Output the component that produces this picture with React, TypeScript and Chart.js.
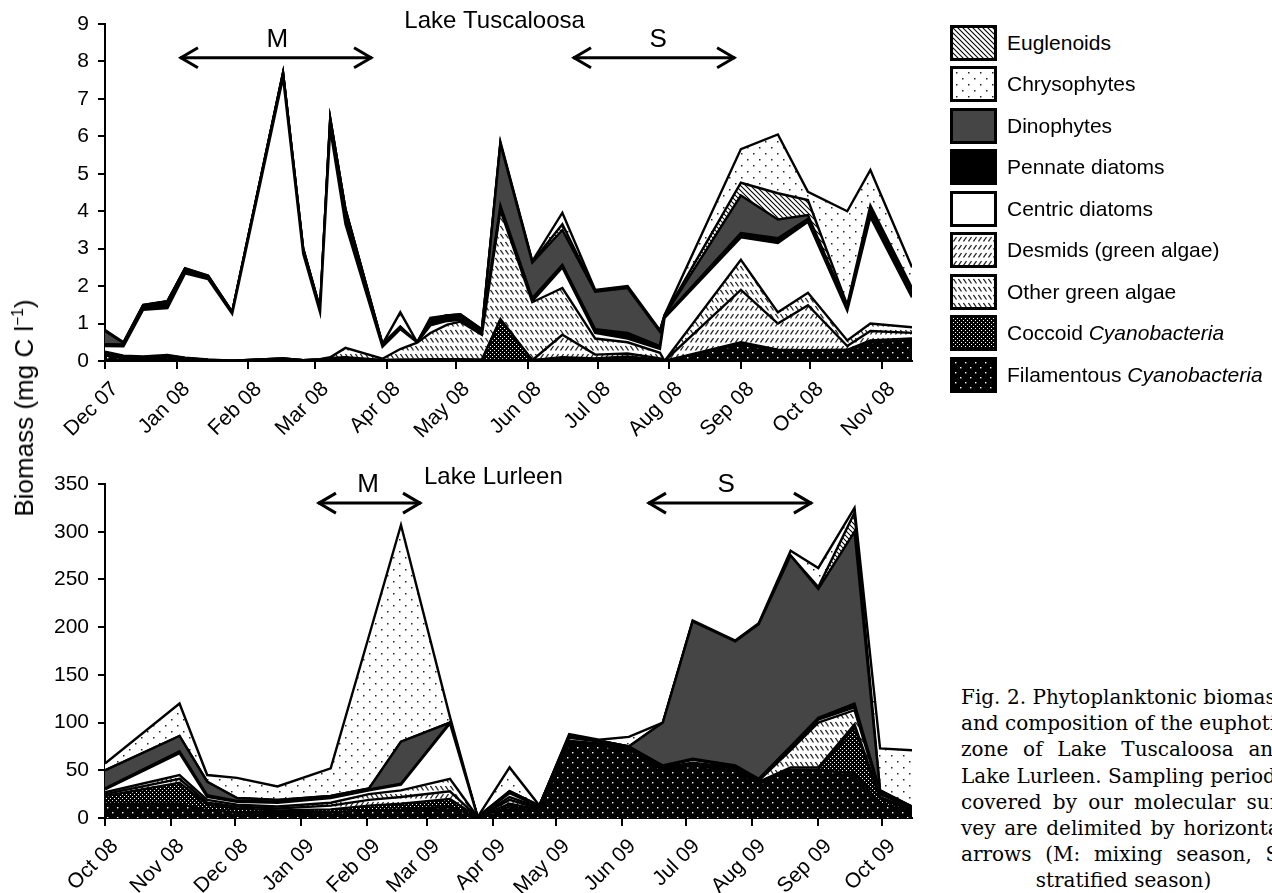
import React, { useEffect, useRef } from 'react';
import { Chart, registerables } from 'chart.js';

Chart.register(...registerables);

const FONT = '"Liberation Sans", Arial, Helvetica, sans-serif';

// ---------- Lake Tuscaloosa (days since 1 Dec 2007) ----------
const tuscDays = [0, 8, 16.5, 27, 34.6, 44.6, 55, 77, 85.7, 93, 97.4, 104, 120, 127.7, 135, 140.7, 148, 153.7, 163, 171, 184.8, 197.8, 212, 226, 240, 242, 275, 291, 304, 321, 331, 349];
const tFil = [0.15, 0.08, 0.07, 0.10, 0.05, 0.02, 0.01, 0.05, 0.02, 0.03, 0.05, 0.03, 0.02, 0.02, 0.02, 0.02, 0.02, 0.02, 0.02, 0.03, 0.02, 0.08, 0.05, 0.10, 0.02, 0, 0.45, 0.28, 0.27, 0.28, 0.50, 0.55];
const tCoc = [0.05, 0.03, 0.02, 0.03, 0.02, 0.01, 0, 0.02, 0, 0.01, 0.02, 0.02, 0, 0, 0, 0, 0, 0, 0, 1.07, 0, 0.02, 0.02, 0.02, 0, 0, 0.05, 0.02, 0.02, 0.02, 0.05, 0.05];
const tDes = [0.02, 0.01, 0.01, 0.01, 0.01, 0, 0, 0, 0, 0, 0.01, 0.05, 0.01, 0.02, 0.02, 0.03, 0.03, 0.03, 0.02, 0.02, 0, 0.60, 0.10, 0.08, 0.05, 0, 1.40, 0.70, 1.20, 0.10, 0.25, 0.15];
const tOg = [0.03, 0.02, 0.02, 0.02, 0.01, 0.01, 0, 0, 0, 0.01, 0.02, 0.25, 0.03, 0.28, 0.45, 0.70, 0.92, 1.00, 0.66, 2.90, 1.55, 1.25, 0.43, 0.30, 0.15, 0, 0.80, 0.30, 0.33, 0.15, 0.20, 0.15];
const tCen = [0.15, 0.25, 1.25, 1.25, 2.25, 2.15, 1.25, 7.5, 2.85, 1.25, 6.10, 3.30, 0.32, 0.53, 0.01, 0.20, 0.10, 0.05, 0.05, 0.03, 0.03, 0.55, 0.15, 0.10, 0.10, 1.15, 0.60, 1.85, 1.90, 0.80, 2.85, 0.80];
const tPen = [0.05, 0.05, 0.08, 0.15, 0.10, 0.06, 0.04, 0.10, 0.10, 0.08, 0.20, 0.30, 0.05, 0.05, 0, 0.10, 0.10, 0.08, 0.05, 0.10, 0.08, 0.07, 0.10, 0.15, 0.08, 0.03, 0.12, 0.13, 0.08, 0.05, 0.10, 0.10];
const tDin = [0.35, 0.04, 0.03, 0.03, 0.02, 0.02, 0.01, 0.03, 0.03, 0.02, 0.08, 0.10, 0.02, 0.02, 0, 0.05, 0.05, 0.05, 0.03, 1.65, 0.95, 0.93, 1.00, 1.20, 0.38, 0.03, 1.00, 0.50, 0.10, 0.05, 0.10, 0.10];
const tEug = [0.01, 0.01, 0.01, 0.01, 0.01, 0, 0, 0, 0, 0, 0, 0, 0, 0, 0, 0, 0, 0.01, 0, 0.02, 0.02, 0.15, 0.02, 0.02, 0.02, 0.01, 0.34, 0.70, 0.40, 0.05, 0.10, 0.05];
const tChr = [0.02, 0.01, 0.01, 0, 0.01, 0.01, 0, 0, 0, 0, 0, 0, 0, 0.38, 0, 0.05, 0, 0.01, 0.02, 0.03, 0.02, 0.31, 0.03, 0.03, 0.02, 0.01, 0.90, 1.57, 0.22, 2.50, 0.95, 0.55];
const tuscTickDays = [0, 31, 62, 91, 122, 152, 183, 213, 244, 275, 305, 336];
const tuscTickLabels = ['Dec 07', 'Jan 08', 'Feb 08', 'Mar 08', 'Apr 08', 'May 08', 'Jun 08', 'Jul 08', 'Aug 08', 'Sep 08', 'Oct 08', 'Nov 08'];
const tuscYTicks = [0, 1, 2, 3, 4, 5, 6, 7, 8, 9];

// ---------- Lake Lurleen (days since 1 Oct 2008) ----------
const lurDays = [0, 35, 48, 62, 81, 106, 124, 139, 162, 175, 190, 204, 218, 232, 246, 262, 276, 296, 307, 322, 335, 352, 364, 379];
const lFil = [15, 15, 8, 6, 5, 6, 8, 9, 12, 1, 12, 8, 78, 76, 72, 50, 55, 50, 36, 50, 50, 47, 15, 6];
const lCoc = [8, 22, 6, 4, 3, 3, 5, 6, 8, 0, 3, 1, 1, 1, 0.5, 1, 1, 1, 1, 1, 1, 48, 5, 2];
const lDes = [2, 4, 2, 2, 2, 4, 6, 7, 8, 0, 4, 1, 1, 0.5, 0.5, 1, 1, 1, 1, 2, 2, 3, 2, 1];
const lOg = [2, 4, 3, 2, 2, 3, 6, 7, 13, 0, 3, 1, 1, 0.5, 0.5, 1, 1, 1, 1, 18, 47, 15, 3, 1];
const lCen = [3, 23, 3, 3, 4, 5, 4, 6, 58, 0, 4, 1, 3, 2, 1, 1, 3, 1, 1, 2, 3, 3, 2, 1];
const lPen = [1, 2, 2, 1, 1, 1, 1, 1, 1, 0, 1, 0.5, 2, 1, 0.5, 1, 1, 1, 1, 2, 2, 4, 1, 1];
const lDin = [19, 16, 14, 3, 2, 1, 1, 44, 0, 0, 1, 0.5, 0, 0, 0, 45, 144, 130, 162, 200, 135, 180, 1, 0];
const lEug = [0, 0, 0, 0, 0, 0, 0, 0, 0, 0, 0, 0, 0, 0, 0, 0, 0, 0, 0, 0, 2, 20, 0, 0];
const lChr = [7, 34, 7, 21, 14, 29, 160, 227, 6, 0, 25, 0, 2, 1, 10, 0, 1, 1, 1, 5, 20, 5, 44, 59];
const lurTickDays = [0, 31, 61, 92, 123, 151, 182, 212, 243, 273, 304, 335, 365];
const lurTickLabels = ['Oct 08', 'Nov 08', 'Dec 08', 'Jan 09', 'Feb 09', 'Mar 09', 'Apr 09', 'May 09', 'Jun 09', 'Jul 09', 'Aug 09', 'Sep 09', 'Oct 09'];
const lurYTicks = [0, 50, 100, 150, 200, 250, 300, 350];

// stacking order, bottom to top
const stackKeys = ['fil', 'coc', 'des', 'og', 'cen', 'pen', 'din', 'eug', 'chr'];
const stackNames = ['Filamentous Cyanobacteria', 'Coccoid Cyanobacteria', 'Desmids (green algae)', 'Other green algae', 'Centric diatoms', 'Pennate diatoms', 'Dinophytes', 'Euglenoids', 'Chrysophytes'];
const tuscSeries = [tFil, tCoc, tDes, tOg, tCen, tPen, tDin, tEug, tChr];
const lurSeries = [lFil, lCoc, lDes, lOg, lCen, lPen, lDin, lEug, lChr];

// legend, top to bottom
const legendKeys = ['eug', 'chr', 'din', 'pen', 'cen', 'des', 'og', 'coc', 'fil'];
const legendPlain = ['Euglenoids', 'Chrysophytes', 'Dinophytes', 'Pennate diatoms', 'Centric diatoms', 'Desmids (green algae)', 'Other green algae', 'Coccoid ', 'Filamentous '];
const legendItalic = ['', '', '', '', '', '', '', 'Cyanobacteria', 'Cyanobacteria'];

const captionLines = [
  'Fig. 2. Phytoplanktonic biomass',
  'and composition of the euphotic',
  'zone of Lake Tuscaloosa and',
  'Lake Lurleen. Sampling periods',
  'covered by our molecular sur-',
  'vey are delimited by horizontal',
  'arrows (M: mixing season, S:',
  'stratified season)',
];

function makeFill(key: string): CanvasPattern | string {
  if (key === 'cen') return '#ffffff';
  if (key === 'pen') return '#000000';
  if (key === 'din') return '#454545';
  const c = document.createElement('canvas');
  const g = c.getContext('2d') as CanvasRenderingContext2D;
  const set = (w: number, h: number, bg: string) => {
    c.width = w; c.height = h;
    g.fillStyle = bg; g.fillRect(0, 0, w, h);
  };
  const line = (pts: number[][], lw: number, col: string) => {
    g.strokeStyle = col; g.lineWidth = lw;
    g.beginPath(); g.moveTo(pts[0][0], pts[0][1]); g.lineTo(pts[1][0], pts[1][1]); g.stroke();
  };
  if (key === 'fil') {
    set(10, 10, '#000'); g.fillStyle = '#fff';
    g.fillRect(2, 2, 1.4, 1.4); g.fillRect(7, 7, 1.4, 1.4);
  } else if (key === 'coc') {
    set(4, 4, '#000'); g.fillStyle = '#fff';
    g.fillRect(0, 0, 1, 1); g.fillRect(2, 2, 1, 1);
  } else if (key === 'chr') {
    set(12, 12, '#fff'); g.fillStyle = '#222';
    g.fillRect(3, 3, 1.5, 1.5); g.fillRect(9, 9, 1.5, 1.5);
  } else if (key === 'des') {
    set(5, 8, '#fff');
    line([[0.5, 6.5], [3.5, 2]], 1.3, '#222');
  } else if (key === 'og') {
    set(5, 8, '#fff');
    line([[0.5, 2], [3.5, 6.5]], 1.3, '#222');
  } else if (key === 'eug') {
    set(5, 5, '#fff');
    line([[-1, -1], [6, 6]], 1.1, '#000');
    line([[-1, 4], [1, 6]], 1.1, '#000');
    line([[4, -1], [6, 1]], 1.1, '#000');
  }
  return g.createPattern(c, 'repeat') as CanvasPattern;
}

type Arrow = { from: number; to: number; y: number; label: string; lx: number; ly: number };
type Spec = {
  days: number[]; series: number[][]; xMax: number; yMax: number; yTicks: number[];
  tickDays: number[]; tickLabels: string[]; padTop: number; xHeight: number;
  title: string; titleX: number; titleY: number; arrows: Arrow[];
};

function buildConfig(spec: Spec, fills: Record<string, CanvasPattern | string>): any {
  const marks = {
    id: 'marks',
    afterDraw(chart: any) {
      const { ctx } = chart;
      const xs = chart.scales.x, ys = chart.scales.y;
      ctx.save();
      ctx.fillStyle = '#000'; ctx.strokeStyle = '#000';
      ctx.textAlign = 'center'; ctx.textBaseline = 'middle';
      ctx.font = `24px ${FONT}`;
      ctx.fillText(spec.title, xs.getPixelForValue(spec.titleX), ys.getPixelForValue(spec.titleY));
      for (const a of spec.arrows) {
        const x1 = xs.getPixelForValue(a.from), x2 = xs.getPixelForValue(a.to), y = ys.getPixelForValue(a.y);
        ctx.lineWidth = 3; ctx.lineJoin = 'miter'; ctx.lineCap = 'butt';
        ctx.beginPath(); ctx.moveTo(x1, y); ctx.lineTo(x2, y); ctx.stroke();
        ctx.beginPath(); ctx.moveTo(x1 + 18, y - 10); ctx.lineTo(x1 + 1, y); ctx.lineTo(x1 + 18, y + 10); ctx.stroke();
        ctx.beginPath(); ctx.moveTo(x2 - 18, y - 10); ctx.lineTo(x2 - 1, y); ctx.lineTo(x2 - 18, y + 10); ctx.stroke();
        ctx.font = `26px ${FONT}`;
        ctx.fillText(a.label, xs.getPixelForValue(a.lx), ys.getPixelForValue(a.ly));
      }
      ctx.restore();
    },
  };
  return {
    type: 'line',
    data: {
      datasets: spec.series.map((vals, i) => ({
        label: stackNames[i],
        data: spec.days.map((d, j) => ({ x: d, y: vals[j] })),
        backgroundColor: fills[stackKeys[i]],
        borderColor: '#000',
        borderWidth: 2.4,
        borderJoinStyle: 'miter',
        pointRadius: 0,
        tension: 0,
        fill: i === 0 ? 'origin' : '-1',
      })),
    },
    options: {
      animation: false,
      responsive: false,
      events: [],
      layout: { padding: { top: spec.padTop, right: 18, left: 0, bottom: 0 } },
      plugins: { legend: { display: false }, tooltip: { enabled: false } },
      scales: {
        x: {
          type: 'linear', min: 0, max: spec.xMax,
          afterBuildTicks: (s: any) => { s.ticks = spec.tickDays.map((v) => ({ value: v })); },
          afterFit: (s: any) => { s.height = spec.xHeight; },
          ticks: {
            autoSkip: false, minRotation: 45, maxRotation: 45, padding: 8, labelOffset: 10,
            color: '#000', font: { family: FONT, size: 21 },
            callback: (_v: any, idx: number) => spec.tickLabels[idx],
          },
          grid: { drawOnChartArea: false, drawTicks: true, tickLength: 8, color: '#000', lineWidth: 2 },
          border: { display: true, color: '#000', width: 2 },
        },
        y: {
          stacked: true, min: 0, max: spec.yMax,
          afterBuildTicks: (s: any) => { s.ticks = spec.yTicks.map((v) => ({ value: v })); },
          afterFit: (s: any) => { s.width = 105; },
          ticks: { color: '#000', padding: 9, font: { family: FONT, size: 21 }, callback: (v: any) => String(v) },
          grid: { drawOnChartArea: false, drawTicks: true, tickLength: 7, color: '#000', lineWidth: 2 },
          border: { display: true, color: '#000', width: 2 },
        },
      },
    },
    plugins: [marks],
  };
}

export default function App() {
  const topRef = useRef<HTMLCanvasElement>(null);
  const botRef = useRef<HTMLCanvasElement>(null);
  const swRefs = useRef<(HTMLCanvasElement | null)[]>([]);

  useEffect(() => {
    const fills: Record<string, CanvasPattern | string> = {};
    stackKeys.forEach((k) => { fills[k] = makeFill(k); });
    const c1 = new Chart(topRef.current as HTMLCanvasElement, buildConfig({
      days: tuscDays, series: tuscSeries, xMax: 349, yMax: 9, yTicks: tuscYTicks,
      tickDays: tuscTickDays, tickLabels: tuscTickLabels, padTop: 24, xHeight: 79,
      title: 'Lake Tuscaloosa', titleX: 168.5, titleY: 9.07,
      arrows: [
        { from: 32.4, to: 115.5, y: 8.1, label: 'M', lx: 74.5, ly: 8.59 },
        { from: 202.4, to: 272.5, y: 8.1, label: 'S', lx: 239.2, ly: 8.59 },
      ],
    }, fills));
    const c2 = new Chart(botRef.current as HTMLCanvasElement, buildConfig({
      days: lurDays, series: lurSeries, xMax: 379, yMax: 350, yTicks: lurYTicks,
      tickDays: lurTickDays, tickLabels: lurTickLabels, padTop: 44, xHeight: 75,
      title: 'Lake Lurleen', titleX: 182.4, titleY: 357.4,
      arrows: [
        { from: 100, to: 148.4, y: 330, label: 'M', lx: 123.5, ly: 349 },
        { from: 255, to: 332, y: 330, label: 'S', lx: 291.7, ly: 349 },
      ],
    }, fills));
    swRefs.current.forEach((cv, i) => {
      if (!cv) return;
      const g = cv.getContext('2d') as CanvasRenderingContext2D;
      g.fillStyle = fills[legendKeys[i]] as any;
      g.fillRect(0, 0, cv.width, cv.height);
    });
    return () => { c1.destroy(); c2.destroy(); };
  }, []);

  return (
    <div style={{ position: 'fixed', left: 0, top: 0, width: 1272, height: 893, overflow: 'hidden', background: '#fff', fontFamily: FONT, color: '#000' }}>
      <canvas ref={topRef} width={930} height={440} style={{ position: 'absolute', left: 0, top: 0, width: 930, height: 440 }} />
      <canvas ref={botRef} width={930} height={453} style={{ position: 'absolute', left: 0, top: 440, width: 930, height: 453 }} />
      <div style={{ position: 'absolute', left: 24, top: 408, transform: 'translate(-50%, -50%) rotate(-90deg)', whiteSpace: 'nowrap', fontSize: 26, lineHeight: 1 }}>
        Biomass (mg C l<sup style={{ fontSize: '0.6em', lineHeight: 0 }}>−1</sup>)
      </div>
      {legendKeys.map((k, i) => (
        <div key={k} style={{ position: 'absolute', left: 950, top: 25 + i * 41.45, height: 36, display: 'flex', alignItems: 'center', whiteSpace: 'nowrap' }}>
          <div style={{ width: 47, height: 36, border: '3px solid #000', boxSizing: 'border-box', flex: 'none' }}>
            <canvas ref={(el) => { swRefs.current[i] = el; }} width={41} height={30} style={{ display: 'block', width: 41, height: 30 }} />
          </div>
          <span style={{ marginLeft: 10, fontSize: 21 }}>
            {legendPlain[i]}{legendItalic[i] ? <i>{legendItalic[i]}</i> : null}
          </span>
        </div>
      ))}
      <div style={{ position: 'absolute', left: 961, top: 684, width: 325, fontFamily: '"DejaVu Serif", serif', fontSize: 20, lineHeight: '26.2px' }}>
        {captionLines.map((t, i) => (
          <div key={i} style={{ whiteSpace: 'nowrap', textAlign: i === captionLines.length - 1 ? 'center' : 'justify', textAlignLast: i === captionLines.length - 1 ? 'center' : 'justify' } as any}>{t}</div>
        ))}
      </div>
    </div>
  );
}
